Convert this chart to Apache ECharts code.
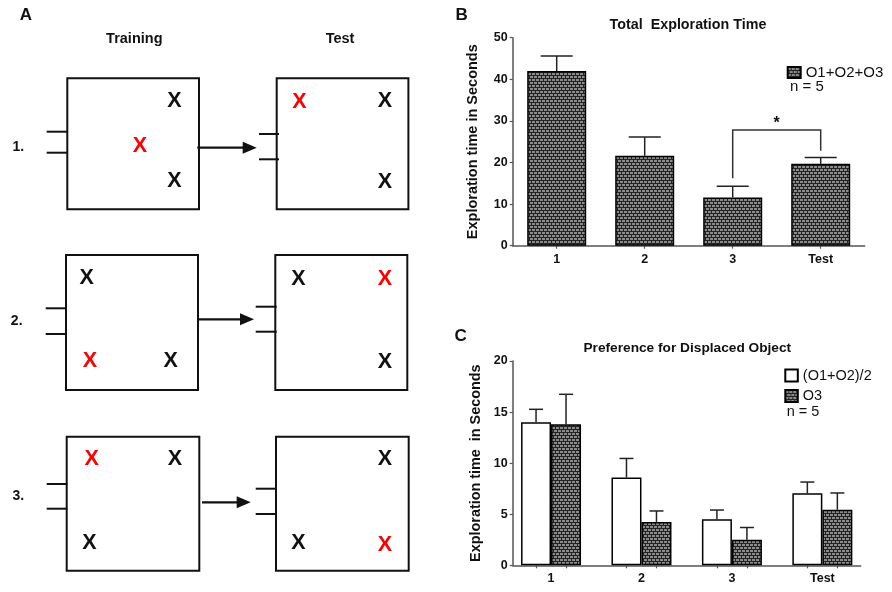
<!DOCTYPE html>
<html><head><meta charset="utf-8">
<script src="https://cdn.jsdelivr.net/npm/echarts@6/dist/echarts.min.js"></script>
<style>html,body{margin:0;padding:0;background:#fff}#c{width:892px;height:592px}</style>
</head><body><div id="c"></div>
<script>
// ---- Panel B data ----
const bCats = ['1', '2', '3', 'Test'];
const bMean = [42.0, 21.6, 11.6, 19.7];
const bErr  = [3.6, 4.5, 2.7, 1.5];
const bSig  = [2, 3, 27.8, 16.2, 22.8]; // from idx, to idx, bracket level, left leg end, right leg end
// ---- Panel C data ----
const cCats  = ['1', '2', '3', 'Test'];
const cMeanA = [14.0, 8.6, 4.5, 7.05];   // (O1+O2)/2
const cErrA  = [1.27, 1.86, 0.91, 1.1];
const cMeanB = [13.8, 4.25, 2.5, 5.45];  // O3
const cErrB  = [2.94, 1.07, 1.2, 1.63];

const FONT = "'Liberation Sans', Arial, sans-serif";

function makePattern() {
  const c = document.createElement('canvas');
  c.width = 4; c.height = 6;
  const g = c.getContext('2d');
  g.fillStyle = '#242424'; g.fillRect(0, 0, 4, 6);
  g.fillStyle = '#8a8a8a';
  g.fillRect(0, 1, 3, 2);
  g.fillRect(2, 4, 2, 2); g.fillRect(0, 4, 1, 2);
  return c;
}
const pattern = { image: makePattern(), repeat: 'repeat' };

function errRender(offsetPx, capHalf) {
  return function (params, api) {
    const x = api.value(0), m = api.value(1), e = api.value(2);
    const a = api.coord([x, m]), b = api.coord([x, m + e]);
    const cx = a[0] + offsetPx;
    return { type: 'group', children: [
      { type: 'line', shape: { x1: cx, y1: a[1], x2: cx, y2: b[1] }, style: { stroke: '#222', lineWidth: 1.5 } },
      { type: 'line', shape: { x1: cx - capHalf, y1: b[1], x2: cx + capHalf, y2: b[1] }, style: { stroke: '#222', lineWidth: 1.5 } }
    ]};
  };
}

// ---- Panel A diagram (decoration) ----
const rows = [
  { label: '1.', lx: 18.3, ly: 146.7,
    boxes: [[67.3, 78.3, 131.7, 131], [276.7, 78.3, 131.7, 131]],
    doors: [[46.7, 67.3, 131.7, 152.7], [259, 279, 134, 159.3]],
    arrow: [197.3, 256.7, 147.7],
    marks: [[174.3, 101, 0], [140, 146, 1], [174.3, 181, 0], [299.3, 101.7, 1], [385, 101, 0], [385, 181.7, 0]] },
  { label: '2.', lx: 16.7, ly: 320.7,
    boxes: [[66, 255, 132, 135], [275.3, 255, 132, 135]],
    doors: [[45.7, 66, 308.3, 334], [255.7, 276.7, 306.7, 331.7]],
    arrow: [198.7, 254, 319.3],
    marks: [[86.7, 278.3, 0], [90, 361, 1], [170.7, 361, 0], [298.3, 279.3, 0], [385, 279.3, 1], [385, 361.7, 0]] },
  { label: '3.', lx: 18.3, ly: 496,
    boxes: [[66.7, 436.7, 132.6, 134], [276, 436.7, 132.7, 134]],
    doors: [[46.7, 67.3, 484, 508.7], [255.7, 276.7, 488.7, 514]],
    arrow: [202, 250.7, 502.3],
    marks: [[91.7, 459.3, 1], [175, 459.3, 0], [89.3, 543.3, 0], [385, 459.3, 0], [298.3, 543.3, 0], [385, 545, 1]] }
];

const gfx = [];
function txt(x, y, s, size, weight, align, color) {
  gfx.push({ type: 'text', x: x, y: y, z: 10, style: { text: s, fontFamily: FONT, fontSize: size, fontWeight: weight || 'bold',
    textAlign: align || 'center', textVerticalAlign: 'middle', fill: color || '#111' } });
}
rows.forEach(r => {
  r.boxes.forEach(b => gfx.push({ type: 'rect', z: 10, shape: { x: b[0], y: b[1], width: b[2], height: b[3] },
    style: { fill: 'none', stroke: '#111', lineWidth: 2 } }));
  r.doors.forEach(d => {
    [d[2], d[3]].forEach(y => gfx.push({ type: 'line', z: 10, shape: { x1: d[0], y1: y, x2: d[1], y2: y },
      style: { stroke: '#111', lineWidth: 2 } }));
  });
  const a = r.arrow;
  gfx.push({ type: 'line', z: 10, shape: { x1: a[0], y1: a[2], x2: a[1] - 12, y2: a[2] }, style: { stroke: '#111', lineWidth: 2.2 } });
  gfx.push({ type: 'polygon', z: 10, shape: { points: [[a[1] - 14, a[2] - 6], [a[1], a[2]], [a[1] - 14, a[2] + 6]] }, style: { fill: '#111' } });
  r.marks.forEach(m => txt(m[0], m[1], 'X', 21.5, 'bold', 'center', m[2] ? '#ff0000' : '#111'));
  txt(r.lx, r.ly, r.label, 14, 'bold');
});
txt(26, 15, 'A', 17, 'bold');
txt(134.3, 39.3, 'Training', 14.5, 'bold');
txt(340, 39.3, 'Test', 14.5, 'bold');
txt(461.7, 15, 'B', 17, 'bold');
txt(460.7, 336, 'C', 17, 'bold');
txt(688, 25, 'Total  Exploration Time', 14.3, 'bold');
txt(687.3, 348.3, 'Preference for Displaced Object', 13.7, 'bold');
txt(790, 87.3, 'n = 5', 15, 'normal', 'left');
txt(786.7, 411.7, 'n = 5', 14.5, 'normal', 'left');

const BAR_C = 30;
const axisCommon = {
  axisLine: { show: true, onZero: false, lineStyle: { color: '#555', width: 1.5 } },
  axisTick: { show: true, length: 3, lineStyle: { color: '#555', width: 1.2 } },
  splitLine: { show: false },
  axisLabel: { fontFamily: FONT, fontWeight: 'bold', fontSize: 12.5, color: '#111' }
};

const option = {
  animation: false,
  backgroundColor: '#fff',
  textStyle: { fontFamily: FONT },
  grid: [
    { left: 512.7, right: 27.3, top: 37.7, bottom: 346.3 },
    { left: 512.7, right: 31.3, top: 361, bottom: 26.7 }
  ],
  legend: [
    { data: ['O1+O2+O3'], left: 786.7, top: 65, padding: 0, icon: 'rect', itemWidth: 13, itemHeight: 11,
      selectedMode: false, textStyle: { fontFamily: FONT, fontSize: 15, color: '#111' } },
    { data: ['(O1+O2)/2'], left: 784.3, top: 368, padding: 0, icon: 'rect', itemWidth: 12.5, itemHeight: 12,
      selectedMode: false, textStyle: { fontFamily: FONT, fontSize: 14.5, color: '#111' } },
    { data: ['O3'], left: 784.3, top: 388.5, padding: 0, icon: 'rect', itemWidth: 12.5, itemHeight: 12,
      selectedMode: false, textStyle: { fontFamily: FONT, fontSize: 14.5, color: '#111' } }
  ],
  xAxis: [
    Object.assign({}, axisCommon, { type: 'category', gridIndex: 0, data: bCats,
      axisTick: { show: true, alignWithLabel: true, length: 3, lineStyle: { color: '#555', width: 1.2 } },
      axisLabel: Object.assign({}, axisCommon.axisLabel, { margin: 7 }) }),
    Object.assign({}, axisCommon, { type: 'value', gridIndex: 1, min: -0.424, max: 3.424,
      axisTick: { show: true, length: 3, lineStyle: { color: '#555', width: 1.2 },
        customValues: cCats.flatMap((c, i) => [i - 0.166, i + 0.166]) },
      axisLabel: Object.assign({}, axisCommon.axisLabel, { margin: 7, customValues: cCats.map((c, i) => i),
        formatter: v => cCats[Math.round(v)] }) })
  ],
  yAxis: [
    Object.assign({}, axisCommon, { type: 'value', gridIndex: 0, min: 0, max: 50, interval: 10,
      axisLabel: Object.assign({}, axisCommon.axisLabel, { margin: 5 }),
      name: 'Exploration time in Seconds', nameLocation: 'middle', nameGap: 32,
      nameTextStyle: { fontFamily: FONT, fontWeight: 'bold', fontSize: 14.5, color: '#111' } }),
    Object.assign({}, axisCommon, { type: 'value', gridIndex: 1, min: 0, max: 20, interval: 5,
      axisLabel: Object.assign({}, axisCommon.axisLabel, { margin: 5 }),
      name: 'Exploration time  in Seconds', nameLocation: 'middle', nameGap: 30,
      nameTextStyle: { fontFamily: FONT, fontWeight: 'bold', fontSize: 14.4, color: '#111' } })
  ],
  series: [
    { name: 'O1+O2+O3', type: 'bar', xAxisIndex: 0, yAxisIndex: 0, data: bMean, barWidth: 59, z: 3,
      itemStyle: { color: pattern, borderColor: '#000', borderWidth: 1.5 } },
    { type: 'custom', xAxisIndex: 0, yAxisIndex: 0, z: 2, silent: true,
      data: bMean.map((m, i) => [i, m, bErr[i]]), renderItem: errRender(0, 16) },
    { type: 'custom', xAxisIndex: 0, yAxisIndex: 0, z: 4, silent: true, data: [bSig],
      renderItem: function (params, api) {
        const pl = api.coord([api.value(0), api.value(3)]);
        const plt = api.coord([api.value(0), api.value(2)]);
        const prt = api.coord([api.value(1), api.value(2)]);
        const pr = api.coord([api.value(1), api.value(4)]);
        return { type: 'group', children: [
          { type: 'polyline', shape: { points: [pl, plt, prt, pr] }, style: { stroke: '#333', lineWidth: 1.5, fill: 'none' } },
          { type: 'text', x: (plt[0] + prt[0]) / 2, y: plt[1] - 6,
            style: { text: '*', fontFamily: FONT, fontSize: 16, fontWeight: 'bold', fill: '#111', textAlign: 'center', textVerticalAlign: 'middle' } }
        ]};
      } },
    { name: '(O1+O2)/2', type: 'bar', xAxisIndex: 1, yAxisIndex: 1, data: cMeanA.map((v, i) => [i, v]),
      barWidth: BAR_C, barGap: '0%', z: 3, itemStyle: { color: '#fff', borderColor: '#000', borderWidth: 1.5 } },
    { name: 'O3', type: 'bar', xAxisIndex: 1, yAxisIndex: 1, data: cMeanB.map((v, i) => [i, v]),
      barWidth: BAR_C, barGap: '0%', z: 3, itemStyle: { color: pattern, borderColor: '#000', borderWidth: 1.5 } },
    { type: 'custom', xAxisIndex: 1, yAxisIndex: 1, z: 2, silent: true,
      data: cMeanA.map((m, i) => [i, m, cErrA[i]]), renderItem: errRender(-BAR_C / 2, 7) },
    { type: 'custom', xAxisIndex: 1, yAxisIndex: 1, z: 2, silent: true,
      data: cMeanB.map((m, i) => [i, m, cErrB[i]]), renderItem: errRender(BAR_C / 2, 7) }
  ],
  graphic: gfx
};
const chart = echarts.init(document.getElementById('c'), null, { renderer: 'canvas' });
chart.setOption(option);
</script></body></html>
